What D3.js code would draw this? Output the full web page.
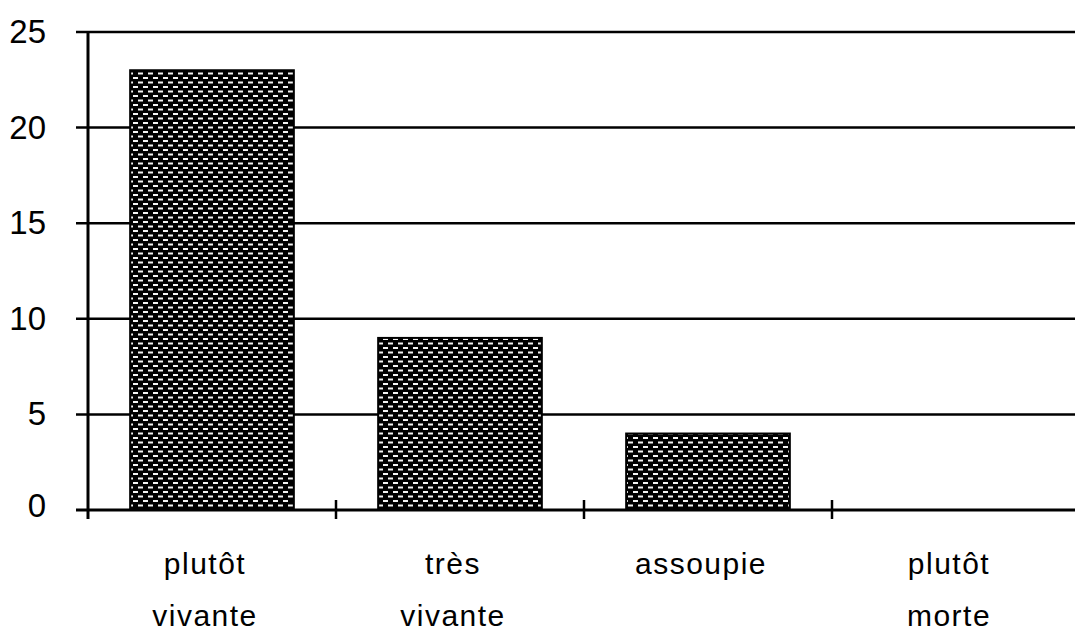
<!DOCTYPE html>
<html>
<head>
<meta charset="utf-8">
<script src="https://cdn.jsdelivr.net/npm/d3@7"></script>
<style>
	body{margin:0;background:#fff;}
	svg{display:block;}
	.TickLabel{font-family:"Liberation Sans",Arial,sans-serif;font-size:33px;fill:#000;}
	.CatLabel{font-family:"Liberation Sans",Arial,sans-serif;font-size:30px;letter-spacing:1.5px;fill:#000;}
</style>
</head>
<body>
<div id="idChart"></div>
<script>
var aCategories=["plutôt vivante","très vivante","assoupie","plutôt morte"];
var aCategoryLines=[["plutôt","vivante"],["très","vivante"],["assoupie"],["plutôt","morte"]];
var aValues=[23,9,4,0];
var aYTicks=[0,5,10,15,20,25];

var iWidth=1075;
var iHeight=631;
var iLeft=88;
var iRight=1080;
var iTop=32;
var iBottom=510;

var myCanvas=d3.select("#idChart").append("svg")
	.attr("width",iWidth)
	.attr("height",iHeight);

// black bar with rows of white dashes
var myPattern=myCanvas.append("defs").append("pattern")
	.attr("id","idDash")
	.attr("patternUnits","userSpaceOnUse")
	.attr("x",2).attr("y",4)
	.attr("width",10).attr("height",9);
myPattern.append("rect").attr("width",10).attr("height",9).attr("fill","#000");
myPattern.append("rect").attr("x",1).attr("y",1).attr("width",5).attr("height",2).attr("fill","#f4f4f4");
myPattern.append("rect").attr("x",6).attr("y",5.5).attr("width",4).attr("height",2).attr("fill","#f4f4f4");
myPattern.append("rect").attr("x",0).attr("y",5.5).attr("width",1).attr("height",2).attr("fill","#f4f4f4");

var xAxes=d3.scaleBand()
	.domain(aCategories)
	.range([iLeft,iRight])
	.paddingInner(0.34)
	.paddingOuter(0.17);

var yAxes=d3.scaleLinear()
	.domain([0,25])
	.range([iBottom,iTop]);

var myGraphics=myCanvas.append("g");

// gridlines with small left ticks
myGraphics.selectAll(".GridLine")
	.data(aYTicks.filter(function(v){return v>0;}))
	.enter().append("line")
	.attr("class","GridLine")
	.attr("x1",iLeft-12)
	.attr("x2",iWidth)
	.attr("y1",function(v){return yAxes(v);})
	.attr("y2",function(v){return yAxes(v);})
	.attr("stroke","#000")
	.attr("stroke-width",2.5);

myGraphics.selectAll(".TickLabel")
	.data(aYTicks)
	.enter().append("text")
	.attr("class","TickLabel")
	.attr("text-anchor","end")
	.attr("x",46)
	.attr("y",function(v){return yAxes(v)+(v===0?7:11);})
	.text(function(v){return v;});

// bars
myGraphics.selectAll(".Bar")
	.data(aValues)
	.enter().append("rect")
	.attr("class","Bar")
	.attr("x",function(v,i){return xAxes(aCategories[i]);})
	.attr("width",xAxes.bandwidth())
	.attr("y",function(v){return yAxes(v);})
	.attr("height",function(v){return iBottom-yAxes(v);})
	.attr("fill","url(#idDash)")
	.attr("stroke","#000")
	.attr("stroke-width",2);

// x axis line and category ticks
myGraphics.append("line")
	.attr("x1",iLeft-12).attr("x2",iWidth)
	.attr("y1",iBottom).attr("y2",iBottom)
	.attr("stroke","#000").attr("stroke-width",3);

myGraphics.append("line")
	.attr("x1",iLeft).attr("x2",iLeft)
	.attr("y1",iTop).attr("y2",iBottom+9)
	.attr("stroke","#000").attr("stroke-width",3);

var aTickX=d3.range(aCategories.length).map(function(i){return iLeft+i*xAxes.step();});
myGraphics.selectAll(".CatTick")
	.data(aTickX.slice(1))
	.enter().append("line")
	.attr("class","CatTick")
	.attr("x1",function(x){return x;})
	.attr("x2",function(x){return x;})
	.attr("y1",iBottom-10)
	.attr("y2",iBottom+9)
	.attr("stroke","#000")
	.attr("stroke-width",2.5);

// category labels, two lines
var myLabels=myGraphics.selectAll(".CatLabel")
	.data(aCategoryLines)
	.enter().append("text")
	.attr("class","CatLabel")
	.attr("text-anchor","middle");

myLabels.selectAll("tspan")
	.data(function(aLines,i){return aLines.map(function(s){return {s:s,c:aCategories[i]};});})
	.enter().append("tspan")
	.attr("x",function(d){return xAxes(d.c)+xAxes.bandwidth()/2-7;})
	.attr("y",function(d,j){return 574+j*52;})
	.text(function(d){return d.s;});
</script>
</body>
</html>
